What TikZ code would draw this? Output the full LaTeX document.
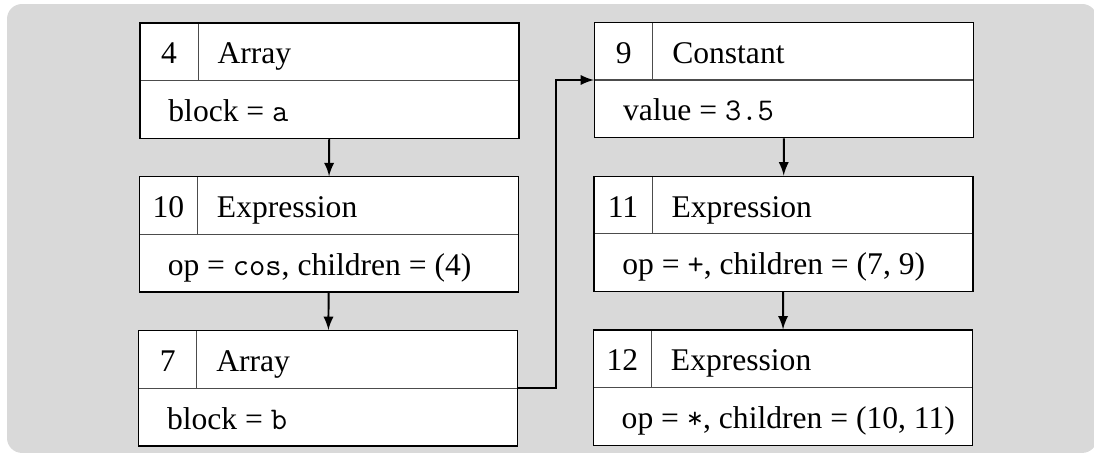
\documentclass[tikz,border=0pt]{standalone}
\usepackage{fontspec}
\setmainfont{Liberation Serif}
\usetikzlibrary{positioning,fit}

% width of the text in the lower row of a box
\newcommand\fieldw{122.4pt}

% one graph node: id cell, kind cell, field row and the frame round them
\newcommand\irbox[5]{%
  \node[idcell,#2] (#1id) {#3};
  \node[kindcell,right=0pt of #1id] (#1kind) {#4};
  \node[fieldcell,below right=0pt and 0pt of #1id.south west] (#1field) {\makebox[\fieldw][l]{#5}};
  \draw[divider] (#1id.north east) -- (#1id.south east);
  \draw[divider] (#1field.north west) -- (#1field.north east);
  \node[frame,fit=(#1id)(#1field)] (#1) {};
}

\tikzset{
  cell/.style={fill=white,inner sep=0pt,
    minimum height=21.5pt,text height=11.5pt,text depth=2.3pt,
    font=\fontsize{12}{14}\selectfont},
  idcell/.style={cell,minimum width=21.7pt},
  kindcell/.style={cell,text width=107.5pt,align=left,inner xsep=7.2pt},
  fieldcell/.style={cell,inner xsep=10.6pt,minimum width=143.6pt},
  divider/.style={draw=black!70,line width=0.4pt},
  frame/.style={draw,line width=0.5pt,inner sep=0pt},
  link/.style={line width=0.75pt,-latex}
}

\begin{document}
\begin{tikzpicture}
  \useasboundingbox (0,0) rectangle (415.7pt,-172.5pt);
  \fill[black!15,rounded corners=5.7pt] (2.66pt,-1.52pt) rectangle (416.9pt,-172.1pt);

  % left column
  \irbox{n4}{at={(53.2pt,-8.74pt)},anchor=north west}{4}{Array}{block = \texttt{a}}
  \irbox{n10}{below right=14.4pt and 0pt of n4.south west}{10}{Expression}{op = \texttt{cos}, children = (4)}
  \irbox{n7}{below right=14.4pt and 0pt of n10.south west}{7}{Array}{block = \texttt{b}}

  % right column
  \irbox{n9}{below right=0pt and 28.5pt of n4.north east}{9}{Constant}{value = \texttt{3.5}}
  \irbox{n11}{below right=14.4pt and 0pt of n9.south west}{11}{Expression}{op = \texttt{+}, children = (7, 9)}
  \irbox{n12}{below right=14.4pt and 0pt of n11.south west}{12}{Expression}{op = \texttt{*}, children = (10, 11)}

  \draw[link] (n4) -- (n10);
  \draw[link] (n10) -- (n7);
  \draw[link] (n7.east) -- ++(14.4pt,0) |- (n9.west);
  \draw[link] (n9) -- (n11);
  \draw[link] (n11) -- (n12);
\end{tikzpicture}
\end{document}
